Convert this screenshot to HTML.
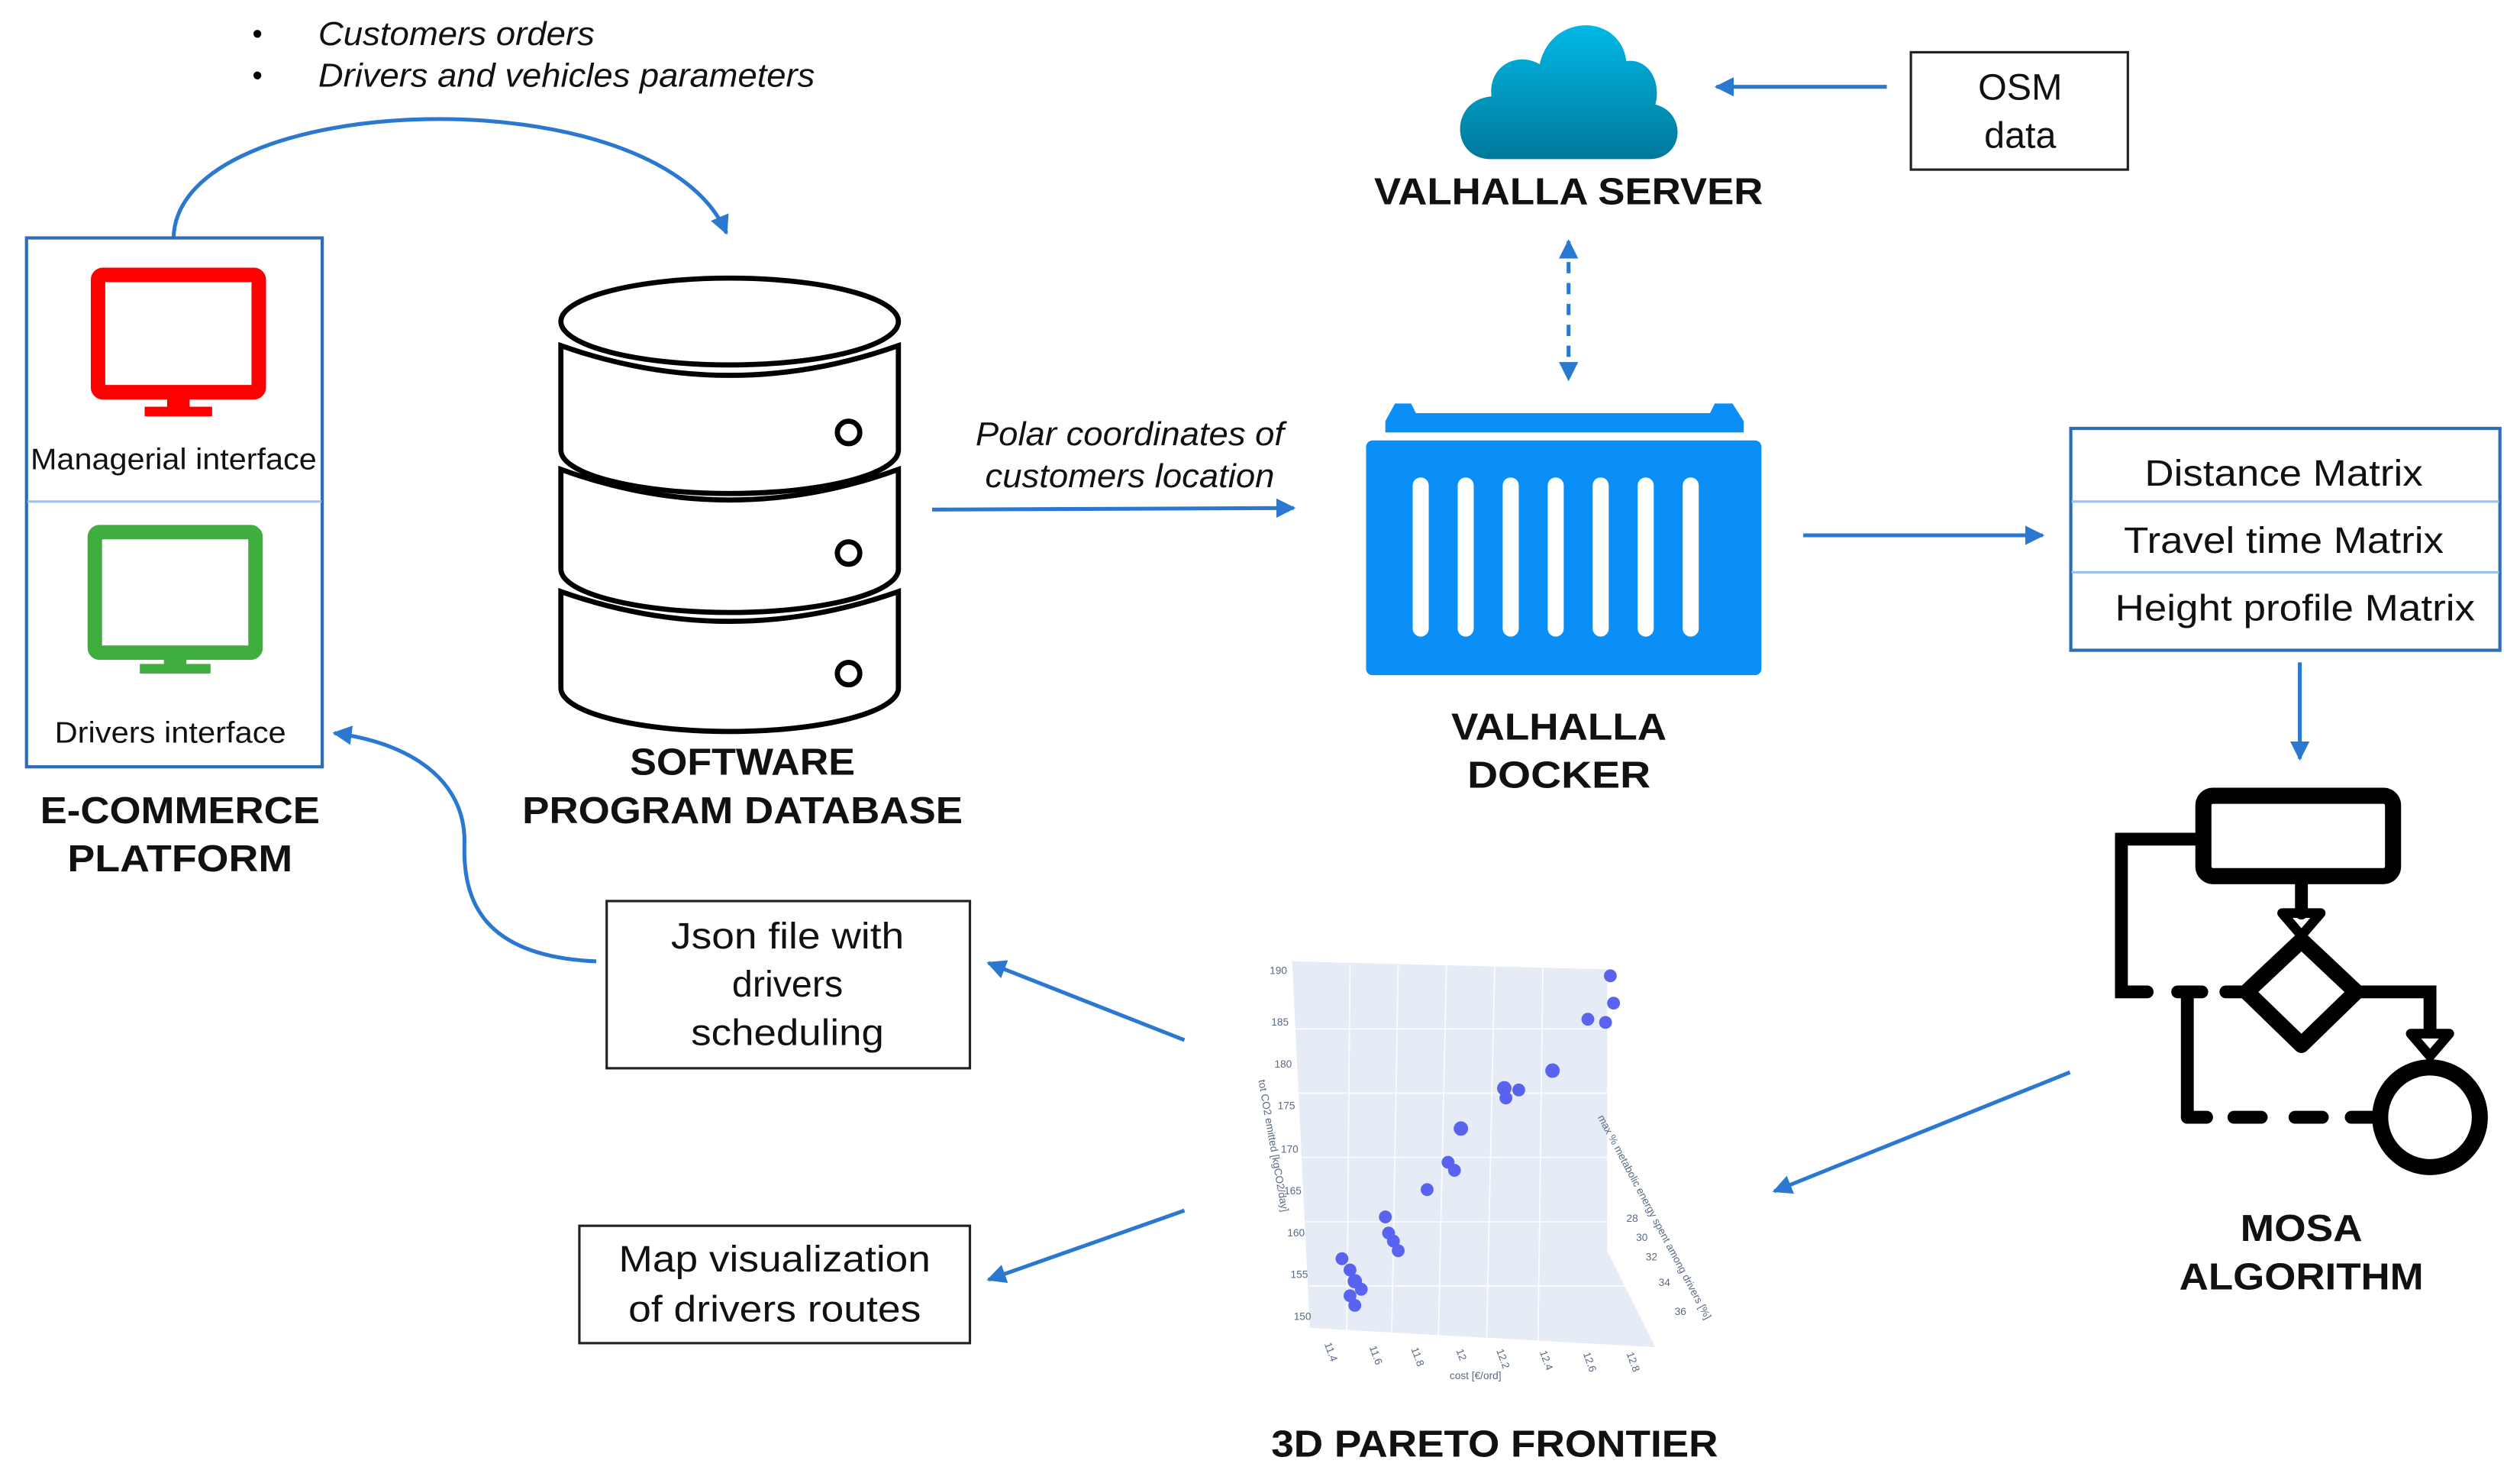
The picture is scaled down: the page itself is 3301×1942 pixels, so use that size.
<!DOCTYPE html>
<html><head><meta charset="utf-8"><style>
html,body{margin:0;padding:0;background:#fff;}
svg{display:block;}
text{font-family:"Liberation Sans",Arial,sans-serif;}
.b{font-weight:bold;font-size:23.5px;text-anchor:middle;fill:#111;}
.n{font-size:23px;text-anchor:middle;fill:#111;}
.it{font-style:italic;font-size:20.5px;fill:#111;}
.bl{stroke:#2a78d0;stroke-width:2.4;fill:none;}
.tk{font-size:6.5px;fill:#5a6a85;}
</style></head><body>
<svg width="3301" height="1942" viewBox="0 0 1568 922.5" preserveAspectRatio="none" xmlns="http://www.w3.org/2000/svg">
<defs>
<marker id="ah" viewBox="0 0 10 10" refX="9" refY="5" markerWidth="5" markerHeight="5" orient="auto-start-reverse"><path d="M0,0 L10,5 L0,10 z" fill="#2a78d0"/></marker>
<linearGradient id="cg" x1="0" y1="0" x2="0" y2="1"><stop offset="0" stop-color="#00b8e6"/><stop offset="1" stop-color="#00789a"/></linearGradient>
</defs>

<text x="157" y="27" font-size="18">•</text>
<text x="198" y="28" class="it" textLength="172" lengthAdjust="spacingAndGlyphs">Customers orders</text>
<text x="157" y="53" font-size="18">•</text>
<text x="198" y="54" class="it" textLength="309" lengthAdjust="spacingAndGlyphs">Drivers and vehicles parameters</text>
<path class="bl" d="M108,148 C110,55 410,45 452,145" marker-end="url(#ah)"/>

<rect x="16.5" y="148" width="184" height="329" fill="none" stroke="#2e6db6" stroke-width="2"/>
<line x1="17" y1="312" x2="200" y2="312" stroke="#9cc3ea" stroke-width="1.5"/>
<rect x="61" y="171" width="100" height="73" rx="3" fill="none" stroke="#ff0000" stroke-width="9"/>
<rect x="104" y="248" width="14" height="6" fill="#ff0000"/>
<rect x="90" y="253" width="42" height="6" fill="#ff0000"/>
<text x="108" y="292" font-size="18.5" text-anchor="middle" fill="#111" textLength="178" lengthAdjust="spacingAndGlyphs">Managerial interface</text>
<rect x="59" y="331" width="100" height="75" rx="3" fill="none" stroke="#3fae3f" stroke-width="9"/>
<rect x="102" y="408" width="14" height="6" fill="#3fae3f"/>
<rect x="87" y="413" width="44" height="6" fill="#3fae3f"/>
<text x="106" y="462" font-size="18.5" text-anchor="middle" fill="#111" textLength="144" lengthAdjust="spacingAndGlyphs">Drivers interface</text>
<text x="112" y="512" class="b" textLength="174" lengthAdjust="spacingAndGlyphs">E-COMMERCE</text>
<text x="112" y="542" class="b" textLength="140" lengthAdjust="spacingAndGlyphs">PLATFORM</text>

<g fill="#fff" stroke="#000" stroke-width="3.2">
<path d="M349,368 Q454,405 559,368 L559,428 A105,27 0 0 1 349,428 Z"/>
<path d="M349,292 Q454,330 559,292 L559,354 A105,27 0 0 1 349,354 Z"/>
<path d="M349,215 Q454,252 559,215 L559,280 A105,27 0 0 1 349,280 Z"/>
<ellipse cx="454" cy="200" rx="105" ry="27"/>
<circle cx="528" cy="269" r="7"/>
<circle cx="528" cy="344" r="7"/>
<circle cx="528" cy="419" r="7"/>
</g>
<text x="462" y="482" class="b" textLength="140" lengthAdjust="spacingAndGlyphs">SOFTWARE</text>
<text x="462" y="512" class="b" textLength="274" lengthAdjust="spacingAndGlyphs">PROGRAM DATABASE</text>

<text x="703" y="277" class="it" text-anchor="middle" textLength="192" lengthAdjust="spacingAndGlyphs">Polar coordinates of</text>
<text x="703" y="303" class="it" text-anchor="middle" textLength="180" lengthAdjust="spacingAndGlyphs">customers location</text>
<line class="bl" x1="580" y1="317" x2="805" y2="316" marker-end="url(#ah)"/>

<path d="M928,99 C902,99 902,62 928,60 C926,40 945,32 958,40 C965,8 1008,8 1012,38 C1025,36 1034,50 1030,65 C1050,70 1048,99 1026,99 Z" fill="url(#cg)"/>
<text x="976" y="127" class="b" textLength="242" lengthAdjust="spacingAndGlyphs">VALHALLA SERVER</text>
<rect x="1189" y="32.5" width="135" height="73" fill="none" stroke="#222" stroke-width="1.5"/>
<text x="1257" y="62" class="n">OSM</text>
<text x="1257" y="92" class="n">data</text>
<line class="bl" x1="1174" y1="54" x2="1068" y2="54" marker-end="url(#ah)"/>
<line class="bl" x1="976" y1="150" x2="976" y2="236" stroke-dasharray="7,6" marker-start="url(#ah)" marker-end="url(#ah)"/>

<path d="M862,262 L868,251 L878,251 L881,257 L1064,257 L1067,251 L1078,251 L1085,262 L1085,269 L862,269 Z" fill="#0a8ef7"/>
<rect x="850" y="274" width="246" height="146" rx="4" fill="#0a8ef7"/>
<g fill="#fff">
<rect x="879" y="297" width="10" height="99" rx="5"/><rect x="907" y="297" width="10" height="99" rx="5"/>
<rect x="935" y="297" width="10" height="99" rx="5"/><rect x="963" y="297" width="10" height="99" rx="5"/>
<rect x="991" y="297" width="10" height="99" rx="5"/><rect x="1019" y="297" width="10" height="99" rx="5"/>
<rect x="1047" y="297" width="10" height="99" rx="5"/>
</g>
<text x="970" y="460" class="b" textLength="134" lengthAdjust="spacingAndGlyphs">VALHALLA</text>
<text x="970" y="490" class="b" textLength="114" lengthAdjust="spacingAndGlyphs">DOCKER</text>
<line class="bl" x1="1122" y1="333" x2="1271" y2="333" marker-end="url(#ah)"/>

<rect x="1288.5" y="266.5" width="267" height="138" fill="none" stroke="#2e6db6" stroke-width="2"/>
<line x1="1289" y1="312" x2="1555" y2="312" stroke="#9cc3ea" stroke-width="1.5"/>
<line x1="1289" y1="356" x2="1555" y2="356" stroke="#9cc3ea" stroke-width="1.5"/>
<text x="1421" y="302" class="n" textLength="173" lengthAdjust="spacingAndGlyphs">Distance Matrix</text>
<text x="1421" y="344" class="n" textLength="199" lengthAdjust="spacingAndGlyphs">Travel time Matrix</text>
<text x="1428" y="386" class="n" textLength="224" lengthAdjust="spacingAndGlyphs">Height profile Matrix</text>
<line class="bl" x1="1431" y1="412" x2="1431" y2="472" marker-end="url(#ah)"/>

<g stroke="#000" fill="none" stroke-linecap="round">
<rect x="1371" y="495" width="118" height="50" rx="6" stroke-width="10"/>
<polyline points="1367,522 1320,522 1320,617 1336,617" stroke-width="8"/>
<line x1="1355" y1="617" x2="1370" y2="617" stroke-width="8"/>
<line x1="1385" y1="617" x2="1398" y2="617" stroke-width="8"/>
<line x1="1361" y1="617" x2="1361" y2="695" stroke-width="8"/>
<line x1="1361" y1="695" x2="1373" y2="695" stroke-width="8"/>
<line x1="1390" y1="695" x2="1407" y2="695" stroke-width="8"/>
<line x1="1428" y1="695" x2="1445" y2="695" stroke-width="8"/>
<line x1="1463" y1="695" x2="1477" y2="695" stroke-width="8"/>
<path d="M1432,585 L1466,617 L1432,650 L1398,617 Z" stroke-width="10" stroke-linejoin="round"/>
<line x1="1432" y1="549" x2="1432" y2="568" stroke-width="8"/>
<path d="M1420,568 L1444,568 L1432,582 Z" stroke-width="6" stroke-linejoin="round"/>
<polyline points="1466,617 1512,617 1512,642" stroke-width="8"/>
<path d="M1500,643 L1524,643 L1512,657 Z" stroke-width="6" stroke-linejoin="round"/>
<circle cx="1512" cy="695" r="31" stroke-width="10"/>
</g>
<text x="1432" y="772" class="b" textLength="76" lengthAdjust="spacingAndGlyphs">MOSA</text>
<text x="1432" y="802" class="b" textLength="152" lengthAdjust="spacingAndGlyphs">ALGORITHM</text>
<line class="bl" x1="1288" y1="667" x2="1104" y2="741" marker-end="url(#ah)"/>

<polygon points="804,598 1000,603 1000,778 1030,838 815,826" fill="#e5ecf6"/>
<g stroke="#fff" stroke-width="0.8" opacity="0.9">
<line x1="805" y1="640" x2="1000" y2="640"/><line x1="806" y1="680" x2="1000" y2="680"/>
<line x1="808" y1="720" x2="1000" y2="720"/><line x1="810" y1="760" x2="1005" y2="760"/>
<line x1="812" y1="800" x2="1020" y2="800"/>
<line x1="840" y1="600" x2="838" y2="828"/><line x1="870" y1="600" x2="866" y2="830"/>
<line x1="900" y1="601" x2="895" y2="832"/><line x1="930" y1="601" x2="925" y2="833"/>
<line x1="960" y1="602" x2="957" y2="835"/>
</g>
<g fill="#5a63f0">
<circle cx="1002" cy="607" r="4"/><circle cx="1004" cy="624" r="4"/><circle cx="988" cy="634" r="4"/><circle cx="999" cy="636" r="4"/>
<circle cx="966" cy="666" r="4.5"/><circle cx="936" cy="677" r="4.5"/><circle cx="945" cy="678" r="4"/><circle cx="937" cy="683" r="4"/>
<circle cx="909" cy="702" r="4.5"/><circle cx="901" cy="723" r="4"/><circle cx="905" cy="728" r="4"/><circle cx="888" cy="740" r="4"/>
<circle cx="862" cy="757" r="4"/><circle cx="864" cy="767" r="4"/><circle cx="867" cy="772" r="4"/><circle cx="870" cy="778" r="4"/>
<circle cx="835" cy="783" r="4"/><circle cx="840" cy="790" r="4"/><circle cx="843" cy="797" r="4.5"/><circle cx="847" cy="802" r="4"/>
<circle cx="840" cy="806" r="4"/><circle cx="843" cy="812" r="4"/>
</g>
<g class="tk">
<text x="790" y="606">190</text><text x="791" y="638">185</text><text x="793" y="664">180</text><text x="795" y="690">175</text>
<text x="797" y="717">170</text><text x="799" y="743">165</text><text x="801" y="769">160</text><text x="803" y="795">155</text><text x="805" y="821">150</text>
<text transform="translate(824,836) rotate(70)">11.4</text><text transform="translate(852,838) rotate(70)">11.6</text>
<text transform="translate(878,839) rotate(70)">11.8</text><text transform="translate(906,840) rotate(70)">12</text>
<text transform="translate(931,840) rotate(70)">12.2</text><text transform="translate(958,841) rotate(70)">12.4</text>
<text transform="translate(985,842) rotate(70)">12.6</text><text transform="translate(1012,842) rotate(70)">12.8</text>
<text x="1012" y="760">28</text><text x="1018" y="772">30</text><text x="1024" y="784">32</text><text x="1032" y="800">34</text><text x="1042" y="818">36</text>
<text x="902" y="858">cost [€/ord]</text>
<text transform="translate(783,672) rotate(80)">tot CO2 emitted [kgCO2/day]</text>
<text transform="translate(994,695) rotate(62)">max % metabolic energy spent among drivers [%]</text>
</g>
<line class="bl" x1="737" y1="647" x2="615" y2="599" marker-end="url(#ah)"/>
<line class="bl" x1="737" y1="753" x2="615" y2="796" marker-end="url(#ah)"/>

<rect x="377.5" y="560.5" width="226" height="104" fill="none" stroke="#222" stroke-width="1.5"/>
<text x="490" y="590" class="n" textLength="145" lengthAdjust="spacingAndGlyphs">Json file with</text>
<text x="490" y="620" class="n">drivers</text>
<text x="490" y="650" class="n" textLength="120" lengthAdjust="spacingAndGlyphs">scheduling</text>
<path class="bl" d="M371,598 C300,595 288,560 289,525 C290,485 255,462 208,456" marker-end="url(#ah)"/>

<rect x="360.5" y="762.5" width="243" height="73" fill="none" stroke="#222" stroke-width="1.5"/>
<text x="482" y="791" class="n" textLength="194" lengthAdjust="spacingAndGlyphs">Map visualization</text>
<text x="482" y="822" class="n" textLength="182" lengthAdjust="spacingAndGlyphs">of drivers routes</text>

<text x="930" y="906" class="b" textLength="278" lengthAdjust="spacingAndGlyphs">3D PARETO FRONTIER</text>
</svg>
</body></html>
